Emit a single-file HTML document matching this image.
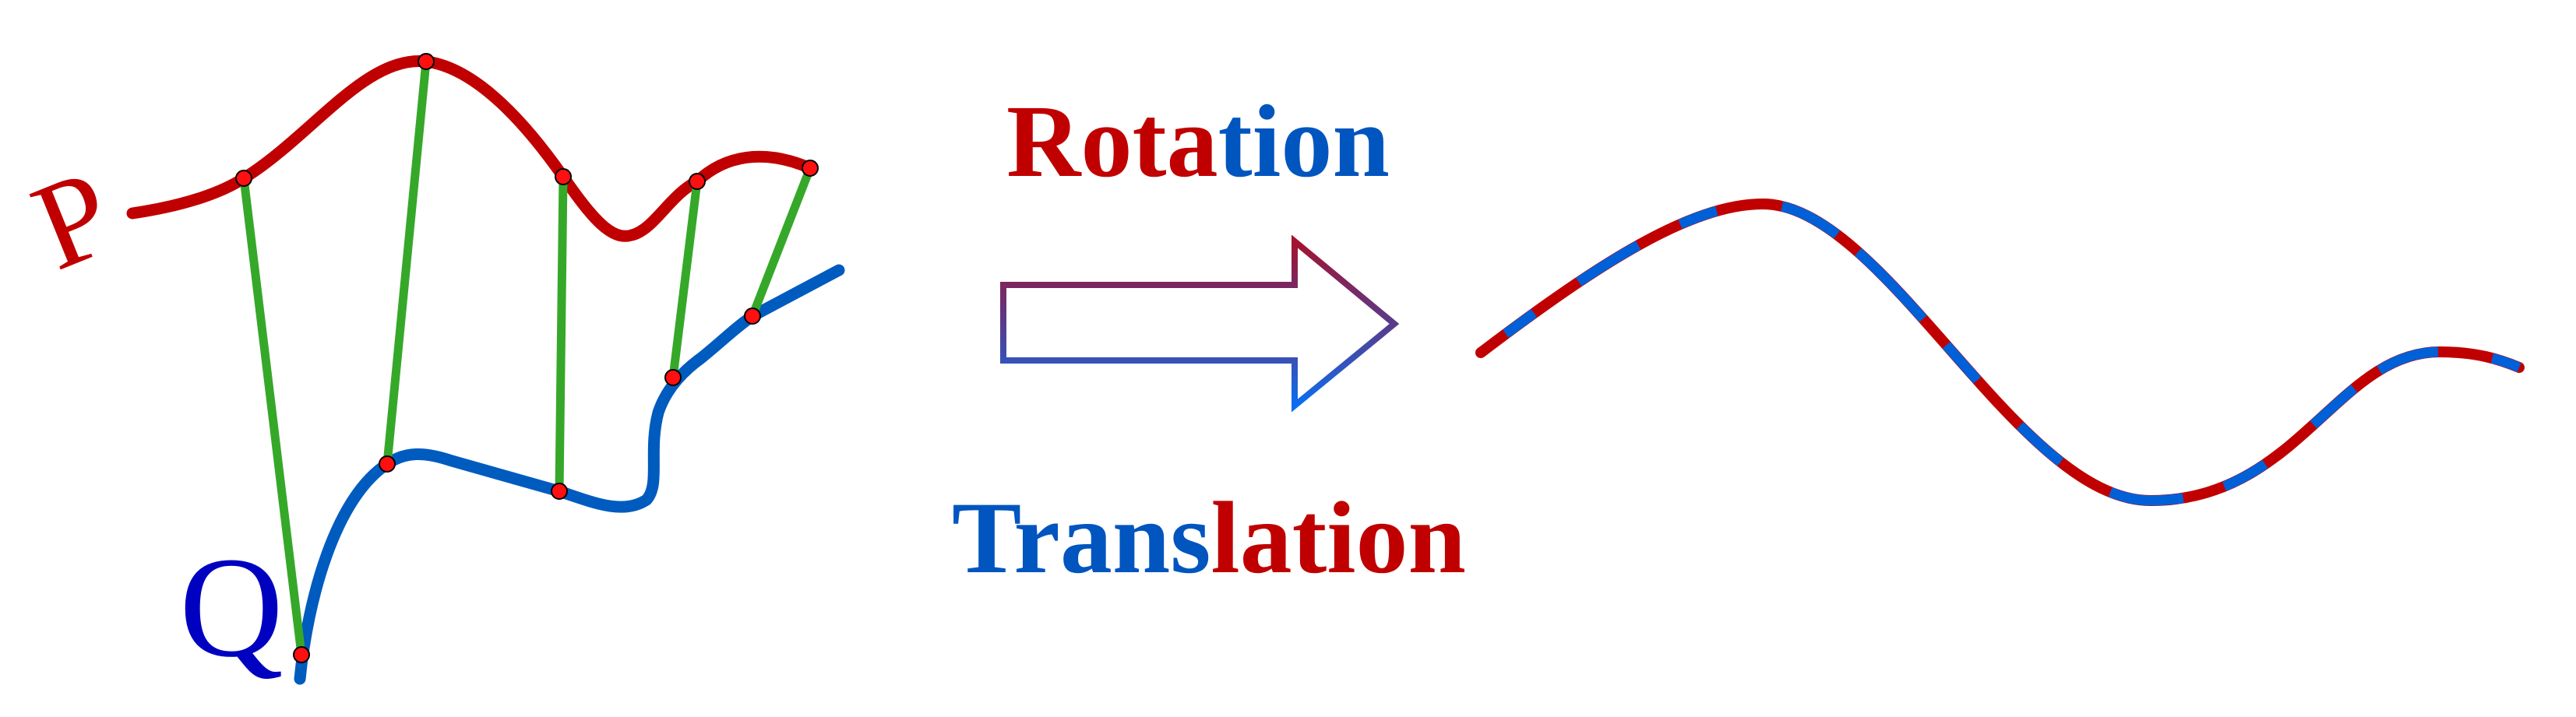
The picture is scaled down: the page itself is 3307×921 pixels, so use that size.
<!DOCTYPE html>
<html><head><meta charset="utf-8"><style>
html,body{margin:0;padding:0;background:#fff;}
svg{display:block;}
</style></head><body>
<svg width="3307" height="921" viewBox="0 0 3307 921" xmlns="http://www.w3.org/2000/svg">
<defs>
<linearGradient id="ag" x1="0" y1="0" x2="0" y2="1">
<stop offset="0" stop-color="#a3132f"/><stop offset="0.5" stop-color="#5a3a8a"/><stop offset="1" stop-color="#0a6ef0"/>
</linearGradient>
</defs>
<path d="M170,274 C230,265 280,250 313,229 C400,175 470,70 547,79 C620,88 690,180 723,227 C760,280 785,310 811,302 C840,295 860,250 895,233 C930,200 980,190 1040,216" fill="none" stroke="#c00000" stroke-width="15" stroke-linecap="round"/>
<path d="M385,872 C395,770 430,640 497,596 C520,580 545,580 580,592 L718,631 C760,645 800,662 830,642 C848,622 832,580 845,530 C855,500 875,478 900,460 C925,440 945,420 966,406 L1077,347" fill="none" stroke="#005bbf" stroke-width="15" stroke-linecap="round"/>
<g stroke="#36a829" stroke-width="11">
<line x1="313" y1="229" x2="387" y2="841"/>
<line x1="547" y1="79" x2="497" y2="596"/>
<line x1="723" y1="227" x2="718" y2="631"/>
<line x1="895" y1="233" x2="864" y2="485"/>
<line x1="1040" y1="216" x2="966" y2="406"/>
</g>
<g fill="#ff1010" stroke="#000" stroke-width="2">
<circle cx="313" cy="229" r="10"/><circle cx="547" cy="79" r="10"/><circle cx="723" cy="227" r="10"/><circle cx="895" cy="233" r="10"/><circle cx="1040" cy="216" r="10"/>
<circle cx="387" cy="841" r="10"/><circle cx="497" cy="596" r="10"/><circle cx="718" cy="631" r="10"/><circle cx="864" cy="485" r="10"/><circle cx="966" cy="406" r="10"/>
</g>
<text x="97" y="335" font-family="'Liberation Serif', serif" font-size="160" fill="#c00000" transform="rotate(-22 97 290)" text-anchor="middle">P</text>
<text x="297" y="842" font-family="'Liberation Serif', serif" font-size="185" fill="#0000c0" text-anchor="middle">Q</text>
<path d="M1288,366 L1662,366 L1662,310 L1790,416 L1662,521 L1662,463 L1288,463 Z" fill="none" stroke="url(#ag)" stroke-width="8"/>
<text x="1292" y="226" font-family="'Liberation Serif', serif" font-weight="bold" font-size="133" textLength="492" lengthAdjust="spacingAndGlyphs"><tspan fill="#c00000">Rota</tspan><tspan fill="#0055bf">tion</tspan></text>
<text x="1222" y="735" font-family="'Liberation Serif', serif" font-weight="bold" font-size="132" textLength="660" lengthAdjust="spacingAndGlyphs"><tspan fill="#0055bf">Trans</tspan><tspan fill="#c00000">lation</tspan></text>
<path d="M1901,453 C2050,340 2170,262 2263,262 C2420,262 2590,643 2761,643 C2950,643 3000,452 3132,452 C3180,452 3210,462 3234,472" fill="none" stroke="#c00000" stroke-width="14" stroke-linecap="round"/>
<path d="M1901,453 C2050,340 2170,262 2263,262 C2420,262 2590,643 2761,643 C2950,643 3000,452 3132,452 C3180,452 3210,462 3234,472" fill="none" stroke="#0060d8" stroke-width="13" stroke-dasharray="0 40 45 70 90 60 50 85 80 35 120 45 60 80 70 75 95 55 60 80 70 40 80 70 60 95 55 60" />
</svg>
</body></html>
